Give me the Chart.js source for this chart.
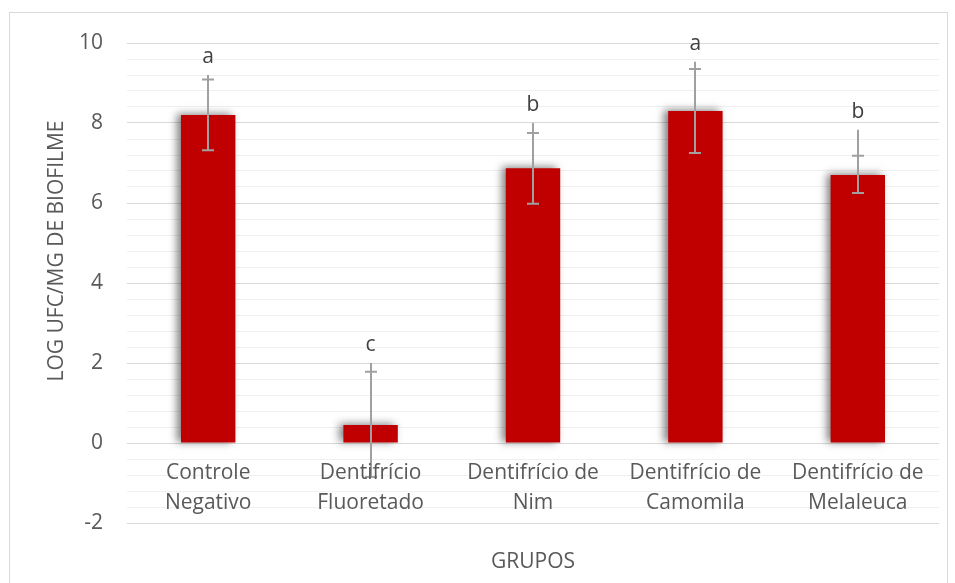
<!DOCTYPE html>
<html><head><meta charset="utf-8">
<script src="https://cdn.jsdelivr.net/npm/chart.js@4/dist/chart.umd.min.js"></script>
<style>html,body{margin:0;padding:0;background:#fff}#wrap{width:955px;height:583px;position:relative}</style>
</head><body><div id="wrap"><canvas id="c" width="955" height="583"></canvas></div>
<script>
const categories = [["Controle","Negativo"],["Dentifrício","Fluoretado"],["Dentifrício de","Nim"],["Dentifrício de","Camomila"],["Dentifrício de","Melaleuca"]];
const means = [8.2, 0.45, 6.87, 8.3, 6.7];
const errCapHigh = [9.09, 1.78, 7.75, 9.35, 7.18];
const errLineHigh = [9.2, 2.0, 8.0, 9.53, 7.83];
const errLow = [7.32, -0.85, 5.98, 7.25, 6.25];
const letters = ["a","c","b","a","b"];
const yTitle = "LOG UFC/MG DE BIOFILME";
const xTitle = "GRUPOS";

const FONT = "'Open Sans', sans-serif";
const FS = 21;
const isMajor = v => Math.abs(v/2 - Math.round(v/2)) < 1e-6;

const decor = {
  id: 'decor',
  beforeDraw(chart){
    const ctx = chart.ctx;
    ctx.save();
    ctx.fillStyle = '#fff';
    ctx.fillRect(0,0,chart.width,chart.height);
    ctx.strokeStyle = '#d9d9d9';
    ctx.lineWidth = 1;
    ctx.strokeRect(9.5, 12.5, 938, 600);
    ctx.restore();
  },
  beforeDatasetDraw(chart){
    const ctx = chart.ctx;
    ctx.save();
    ctx.shadowColor = 'rgba(0,0,0,0.5)';
    ctx.shadowBlur = 8;
    ctx.shadowOffsetX = -4;
    ctx.shadowOffsetY = -1;
  },
  afterDatasetDraw(chart){
    chart.ctx.restore();
  },
  afterDatasetsDraw(chart){
    const ctx = chart.ctx;
    const xs = chart.scales.x, ys = chart.scales.y;
    ctx.save();
    ctx.strokeStyle = '#a0a0a0';
    ctx.lineWidth = 2;
    for (let i=0;i<means.length;i++){
      const x = Math.round(xs.getPixelForValue(i));
      const yTop = ys.getPixelForValue(errLineHigh[i]);
      const yCap = ys.getPixelForValue(errCapHigh[i]);
      const yLow = ys.getPixelForValue(errLow[i]);
      ctx.beginPath();
      ctx.moveTo(x, yTop); ctx.lineTo(x, yLow);
      ctx.moveTo(x-6, yCap); ctx.lineTo(x+6, yCap);
      ctx.moveTo(x-6, yLow); ctx.lineTo(x+6, yLow);
      ctx.stroke();
    }
    ctx.fillStyle = '#404040';
    ctx.font = FS + "px " + FONT;
    ctx.textAlign = 'center';
    ctx.textBaseline = 'middle';
    for (let i=0;i<means.length;i++){
      const x = xs.getPixelForValue(i);
      const yTop = ys.getPixelForValue(errLineHigh[i]);
      ctx.fillText(letters[i], x, yTop - 18);
    }
    ctx.fillStyle = '#595959';
    const y0 = ys.getPixelForValue(0);
    for (let i=0;i<categories.length;i++){
      const x = xs.getPixelForValue(i);
      categories[i].forEach((t,k)=>ctx.fillText(t, x, y0 + 30 + k*30));
    }
    ctx.fillText(xTitle, (chart.chartArea.left + chart.chartArea.right)/2, 562);
    ctx.save();
    ctx.translate(57, 251);
    ctx.rotate(-Math.PI/2);
    ctx.fillText(yTitle, 0, 0);
    ctx.restore();
    ctx.restore();
  }
};

new Chart(document.getElementById('c'), {
  type: 'bar',
  data: {
    labels: categories.map(c=>c.join(' ')),
    datasets: [{
      data: means,
      backgroundColor: '#c00000',
      borderWidth: 0,
      barPercentage: 0.335,
      categoryPercentage: 1.0
    }]
  },
  options: {
    responsive: false,
    animation: false,
    devicePixelRatio: 1,
    layout: { padding: { left: 0, top: 43, right: 16, bottom: 0 } },
    plugins: { legend: { display: false }, tooltip: { enabled: false } },
    scales: {
      x: {
        grid: { display: false },
        border: { display: false },
        ticks: { display: false },
        afterFit(s){ s.height = 60; }
      },
      y: {
        min: -2, max: 10,
        border: { display: false },
        grid: {
          drawTicks: false,
          color: ctx => isMajor(ctx.tick.value) ? '#d9d9d9' : '#f0f0f0',
          lineWidth: 1
        },
        ticks: {
          stepSize: 0.4,
          autoSkip: false,
          padding: 24,
          color: '#595959',
          font: { family: FONT, size: FS },
          callback: v => isMajor(v) ? String(Math.round(v)) : ''
        },
        afterFit(s){ s.width = 127; }
      }
    }
  },
  plugins: [decor]
});
</script>
</body></html>
